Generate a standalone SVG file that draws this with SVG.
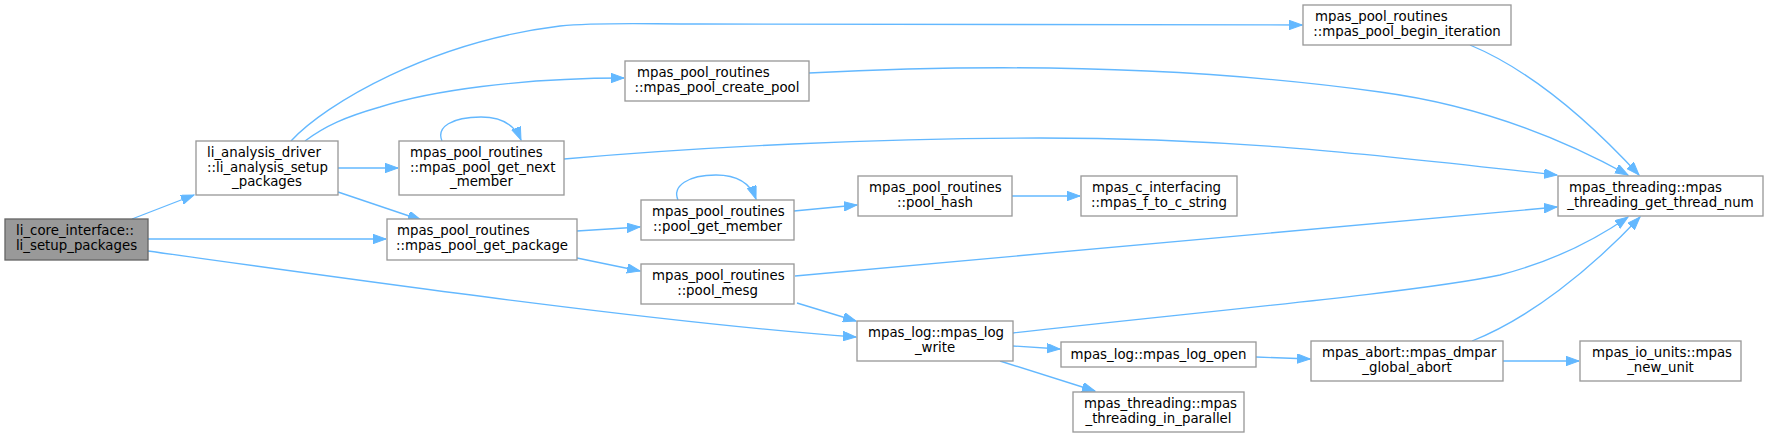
<svg xmlns="http://www.w3.org/2000/svg" width="1768" height="437" viewBox="0 0 1768 437">
<style>
.n rect{fill:#ffffff;stroke:#999999;stroke-width:1.33}
.root rect{fill:#999999;stroke:#666666}
.n text{font-family:"DejaVu Sans",sans-serif;font-size:13.33px;fill:#000000}
.s{text-anchor:start}
.m{text-anchor:middle}
#edges path{fill:none;stroke:#63b8ff;stroke-width:1.33;marker-end:url(#ah)}
</style>
<defs>
<marker id="ah" markerUnits="userSpaceOnUse" markerWidth="14" markerHeight="10" refX="13" refY="4.7" orient="auto">
<path d="M0,0 L13,4.7 L0,9.4 z" fill="#63b8ff" stroke="#63b8ff" stroke-width="1"/>
</marker>
</defs>
<rect width="1768" height="437" fill="#ffffff"/>
<g id="edges">
<path d="M132,219 L194,195"/>
<path d="M148,239 L386,239"/>
<path d="M148,251 C350,279 650,322 856,337"/>
<path d="M291,141 C325,104 430,42 560,26 C600,22 640,24 700,24 L1302,25"/>
<path d="M305,141 C325,126 345,117 380,107 C430,91 520,78 624,78"/>
<path d="M338,168 L398,168"/>
<path d="M338,192 L421,220"/>
<path d="M442,141 C436,127 452,117 481,117 C500,117 514,123 521,140"/>
<path d="M564,159 C700,147 880,138 1040,138 C1250,138 1400,158 1557,175"/>
<path d="M809,73 C1000,63 1200,67 1380,92 C1470,104 1550,132 1628,175"/>
<path d="M1470,45 C1530,70 1590,122 1639,175"/>
<path d="M577,231 L640,227"/>
<path d="M577,258 L640,271"/>
<path d="M678,200 C672,186 688,175 716,175 C736,175 750,182 756,199"/>
<path d="M794,211 L857,205"/>
<path d="M1012,196 L1080,196"/>
<path d="M795,276 L1557,207"/>
<path d="M797,303 L856,321"/>
<path d="M1013,333 C1200,312 1420,292 1500,275 C1550,262 1595,240 1628,217"/>
<path d="M1013,346 L1060,349"/>
<path d="M1000,361 L1095,391"/>
<path d="M1256,357 L1310,359"/>
<path d="M1472,341 C1530,318 1590,270 1640,217"/>
<path d="M1503,361 L1579,361"/>
</g>
<g id="n_li_setup_packages" class="n root"><rect x="5" y="219" width="143" height="41"/><text class="s" x="16" y="235">li_core_interface::</text><text class="m" x="76.5" y="250">li_setup_packages</text></g>
<g id="n_li_analysis_setup_packages" class="n"><rect x="196" y="141" width="142" height="54"/><text class="s" x="207" y="157">li_analysis_driver</text><text class="s" x="207" y="171.5">::li_analysis_setup</text><text class="m" x="267" y="186">_packages</text></g>
<g id="n_mpas_pool_get_next_member" class="n"><rect x="399" y="141" width="165" height="54"/><text class="s" x="410" y="157">mpas_pool_routines</text><text class="s" x="410" y="171.5">::mpas_pool_get_next</text><text class="m" x="481.5" y="186">_member</text></g>
<g id="n_mpas_pool_create_pool" class="n"><rect x="625" y="61" width="184" height="40"/><text class="s" x="637" y="77">mpas_pool_routines</text><text class="m" x="717" y="92">::mpas_pool_create_pool</text></g>
<g id="n_mpas_pool_begin_iteration" class="n"><rect x="1303" y="5" width="208" height="40"/><text class="s" x="1315" y="21">mpas_pool_routines</text><text class="m" x="1407" y="36">::mpas_pool_begin_iteration</text></g>
<g id="n_mpas_pool_get_package" class="n"><rect x="387" y="219" width="190" height="41"/><text class="s" x="397" y="235">mpas_pool_routines</text><text class="m" x="482" y="250">::mpas_pool_get_package</text></g>
<g id="n_pool_get_member" class="n"><rect x="641" y="200" width="153" height="40"/><text class="s" x="652" y="216">mpas_pool_routines</text><text class="m" x="717.5" y="231">::pool_get_member</text></g>
<g id="n_pool_mesg" class="n"><rect x="641" y="264" width="153" height="40"/><text class="s" x="652" y="280">mpas_pool_routines</text><text class="m" x="717.5" y="295">::pool_mesg</text></g>
<g id="n_pool_hash" class="n"><rect x="858" y="176" width="154" height="40"/><text class="s" x="869" y="192">mpas_pool_routines</text><text class="m" x="935" y="207">::pool_hash</text></g>
<g id="n_mpas_f_to_c_string" class="n"><rect x="1081" y="176" width="156" height="40"/><text class="s" x="1092" y="192">mpas_c_interfacing</text><text class="m" x="1159" y="207">::mpas_f_to_c_string</text></g>
<g id="n_mpas_threading_get_thread_num" class="n"><rect x="1558" y="176" width="205" height="40"/><text class="s" x="1569" y="192">mpas_threading::mpas</text><text class="m" x="1660.5" y="207">_threading_get_thread_num</text></g>
<g id="n_mpas_log_write" class="n"><rect x="857" y="321" width="156" height="40"/><text class="s" x="868" y="337">mpas_log::mpas_log</text><text class="m" x="935" y="352">_write</text></g>
<g id="n_mpas_log_open" class="n"><rect x="1061" y="342" width="195" height="25"/><text class="m" x="1158.5" y="359">mpas_log::mpas_log_open</text></g>
<g id="n_mpas_threading_in_parallel" class="n"><rect x="1073" y="392" width="171" height="40"/><text class="s" x="1084" y="408">mpas_threading::mpas</text><text class="m" x="1158.5" y="423">_threading_in_parallel</text></g>
<g id="n_mpas_dmpar_global_abort" class="n"><rect x="1311" y="341" width="192" height="40"/><text class="s" x="1322" y="357">mpas_abort::mpas_dmpar</text><text class="m" x="1407" y="372">_global_abort</text></g>
<g id="n_mpas_new_unit" class="n"><rect x="1580" y="341" width="161" height="40"/><text class="s" x="1592" y="357">mpas_io_units::mpas</text><text class="m" x="1660.5" y="372">_new_unit</text></g>
</svg>
